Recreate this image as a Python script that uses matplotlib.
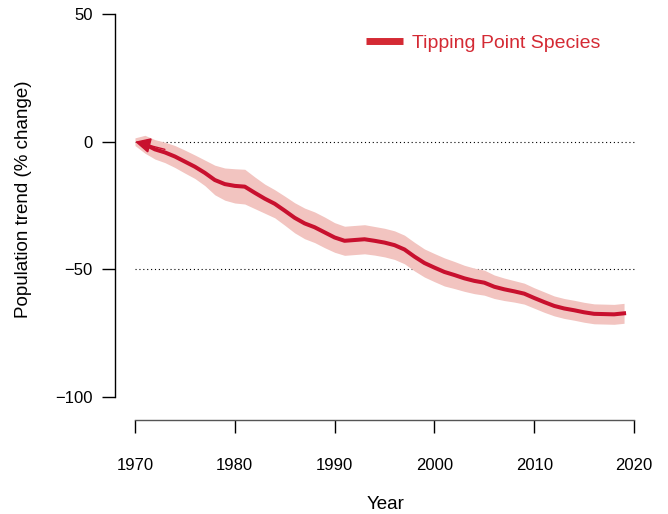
import matplotlib
matplotlib.use("Agg")
import matplotlib.pyplot as plt
from matplotlib.lines import Line2D

plt.rcParams['font.family'] = ['Liberation Sans', 'DejaVu Sans']

# population trend (% change), Tipping Point Species, 1970-2019
years = list(range(1970, 2020))
trend = [0, -1, -3, -4.2, -5.8, -7.8, -9.8, -12.2, -15, -16.6,
         -17.3, -17.6, -20, -22.3, -24.3, -27, -29.8, -32, -33.5, -35.5,
         -37.5, -38.8, -38.5, -38.2, -38.8, -39.5, -40.5, -42.2, -45, -47.5,
         -49.3, -51, -52.2, -53.5, -54.5, -55.2, -56.8, -57.8, -58.6, -59.5,
         -61.2, -62.8, -64.3, -65.3, -66, -66.8, -67.4, -67.5, -67.6, -67.2]
upper = [1.5, 2.5, 0.8, -0.2, -1.5, -3.3, -5.2, -7.2, -9.2, -10.3,
         -10.6, -10.8, -13.8, -16.6, -18.8, -21.3, -23.9, -26, -27.5, -29.5,
         -31.7, -33.1, -32.8, -32.5, -33.2, -33.9, -34.9, -36.6, -39.4, -42,
         -43.8, -45.5, -46.9, -48.4, -49.5, -50.3, -52.2, -53.4, -54.4, -55.4,
         -57.2, -58.8, -60.4, -61.4, -62.1, -62.9, -63.5, -63.6, -63.7, -63.3]
lower = [-1.5, -4.5, -6.8, -8.2, -10.1, -12.3, -14.4, -17.2, -20.8, -22.9,
         -24, -24.4, -26.2, -28, -29.8, -32.7, -35.7, -38, -39.5, -41.5,
         -43.3, -44.5, -44.2, -43.9, -44.4, -45.1, -46.1, -47.8, -50.6, -53,
         -54.8, -56.5, -57.5, -58.6, -59.5, -60.1, -61.4, -62.2, -62.8, -63.6,
         -65.2, -66.8, -68.2, -69.2, -69.9, -70.7, -71.3, -71.4, -71.5, -71.1]
ref_levels = [0, -50]
xticks = [1970, 1980, 1990, 2000, 2010, 2020]
yticks = [-100, -50, 0, 50]

line_col = '#C8102E'
band_col = '#F2C4C0'
legend_col = '#D42A34'

fig = plt.figure(figsize=(6.68, 5.14), dpi=100)
ax = fig.add_axes([0.17216, 0.18288, 0.8009, 0.81712])

for lv in ref_levels:
    ax.plot([1970, 2020], [lv, lv], color='black', lw=0.8,
            linestyle=(0, (1, 2.5)), zorder=1)

ax.fill_between(years, lower, upper, color=band_col, lw=0, zorder=2)
ax.plot(years[1:], trend[1:], color=line_col, lw=2.9, solid_joinstyle='round', zorder=3)
# arrowhead pointing back to the 1970 baseline
ax.annotate('', xy=(years[0], trend[0]), xytext=(years[3], trend[2]),
            arrowprops=dict(arrowstyle='-|>,head_length=0.48,head_width=0.24',
                            mutation_scale=20, color=line_col, lw=1.0,
                            joinstyle='miter', shrinkA=0, shrinkB=0),
            zorder=4)

ax.set_xlim(1968.0, 2021.6)
ax.set_ylim(-108.97, 55.48)

for s in ['top', 'right']:
    ax.spines[s].set_visible(False)
ax.spines['left'].set_bounds(-100, 50)
ax.spines['bottom'].set_bounds(1970, 2020)
ax.spines['left'].set_linewidth(1.0)
ax.spines['bottom'].set_linewidth(1.0)
ax.spines['bottom'].set_color('#555555')

ax.set_xticks(xticks)
ax.set_yticks(yticks)
ax.set_yticklabels(['\u2212100', '\u221250', '0', '50'])
ax.tick_params(axis='x', length=9.4, width=1.0, pad=18, labelsize=12, direction='out')
ax.tick_params(axis='y', length=9.4, width=1.0, pad=6.5, labelsize=12, direction='out')

ax.set_xlabel('Year', fontsize=13.5)
ax.set_ylabel('Population trend (% change)', fontsize=13.5)
ax.xaxis.set_label_coords(0.505, -0.181)
ax.yaxis.set_label_coords(-0.155, 0.525)

handle = Line2D([], [], color=legend_col, lw=5, solid_capstyle='butt')
leg = ax.legend([handle], ['Tipping Point Species'], loc='center left',
                bbox_to_anchor=(366 / 668, 1 - 43 / 514), bbox_transform=fig.transFigure,
                frameon=False, fontsize=14, handlelength=1.9, handletextpad=0.45,
                borderpad=0, borderaxespad=0)
for t in leg.get_texts():
    t.set_color(legend_col)

fig.savefig('out.png', dpi=100)
